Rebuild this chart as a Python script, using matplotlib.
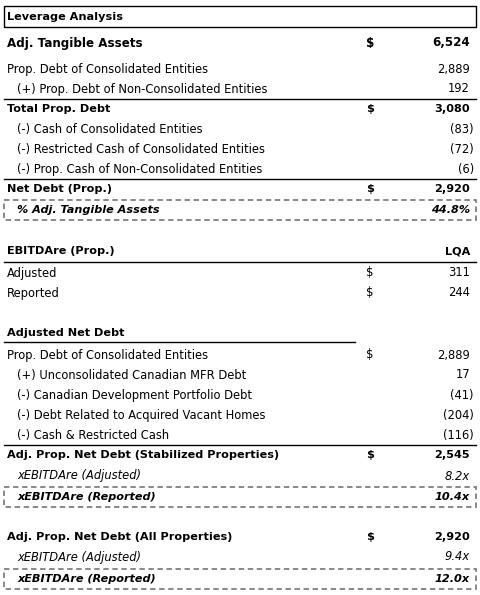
import matplotlib
matplotlib.use("Agg")
import matplotlib.pyplot as plt

labels = ["Leverage Analysis", "Adj. Tangible Assets", "Prop. Debt of Consolidated Entities",
          "(+) Prop. Debt of Non-Consolidated Entities", "Total Prop. Debt",
          "(-) Cash of Consolidated Entities", "(-) Restricted Cash of Consolidated Entities",
          "(-) Prop. Cash of Non-Consolidated Entities", "Net Debt (Prop.)", "% Adj. Tangible Assets",
          "EBITDAre (Prop.)", "Adjusted", "Reported",
          "Adjusted Net Debt", "Prop. Debt of Consolidated Entities",
          "(+) Unconsolidated Canadian MFR Debt", "(-) Canadian Development Portfolio Debt",
          "(-) Debt Related to Acquired Vacant Homes", "(-) Cash & Restricted Cash",
          "Adj. Prop. Net Debt (Stabilized Properties)", "xEBITDAre (Adjusted)", "xEBITDAre (Reported)",
          "Adj. Prop. Net Debt (All Properties)", "xEBITDAre (Adjusted)", "xEBITDAre (Reported)"]
values = ["", "6,524", "2,889", "192", "3,080", "(83)", "(72)", "(6)", "2,920", "44.8%",
          "LQA", "311", "244", "", "2,889", "17", "(41)", "(204)", "(116)",
          "2,545", "8.2x", "10.4x", "2,920", "9.4x", "12.0x"]
dollars = ["", "$", "", "", "$", "", "", "", "$", "", "", "$", "$", "", "$", "", "", "", "",
           "$", "", "", "$", "", ""]

# layout/style
ys = [17, 43, 69, 89, 109, 129, 149, 169, 189, 210, 251, 273, 293, 333, 355, 375, 395, 415, 435,
      455, 476, 497, 537, 557, 579]
bold = {0, 1, 4, 8, 9, 10, 13, 19, 21, 22, 24}
italic = {9, 20, 21, 23, 24}
indent = {3: 10, 5: 10, 6: 10, 7: 10, 9: 10, 15: 10, 16: 10, 17: 10, 18: 10, 20: 10, 21: 10, 23: 10, 24: 10}

fig = plt.figure(figsize=(4.81, 5.95), dpi=100)
ax = fig.add_axes([0, 0, 1, 1])
ax.set_xlim(0, 481); ax.set_ylim(595, 0); ax.axis("off")
for i, (lab, val, d) in enumerate(zip(labels, values, dollars)):
    w = "bold" if i in bold else "normal"
    st = "italic" if i in italic else "normal"
    fs = 8.1 if i in bold else 8.3
    if i == 1:
        fs = 8.6
    ax.text(7 + indent.get(i, 0), ys[i], lab, fontsize=fs, fontweight=w, fontstyle=st,
            va="center", ha="left", color="black", family="DejaVu Sans")
    if d:
        ax.text(366, ys[i], d, fontsize=fs, fontweight=w, va="center", ha="left")
    if val:
        xr = 474 if val.startswith("(") else 470
        ax.text(xr, ys[i], val, fontsize=fs, fontweight=w, fontstyle=st, va="center", ha="right")

ax.add_patch(plt.Rectangle((4, 6), 472, 21, fill=False, lw=1, ec="black"))
for y in [99, 179, 445, 262]:
    ax.plot([4, 476], [y, y], color="black", lw=1)
ax.plot([4, 355], [342, 342], color="black", lw=1)
for y0, y1 in [(200, 220), (487, 507), (569, 589)]:
    ax.add_patch(plt.Rectangle((4, y0), 472, y1 - y0, fill=False, lw=1.3, ec="#808080",
                               ls=(0, (3, 2))))
fig.savefig("out.png", dpi=100)
